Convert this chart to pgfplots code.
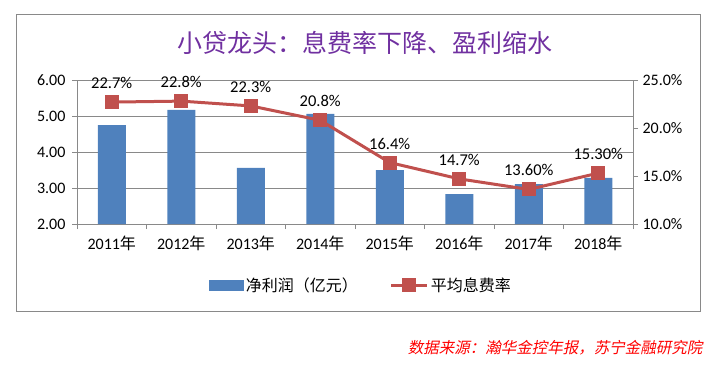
\documentclass[border=0pt]{standalone}
\usepackage{fontspec}
\usepackage{pgfplots}
\pgfplotsset{compat=1.18}
\setmainfont{Carlito}
\newfontfamily\cjk{Noto Sans CJK SC}
\newfontfamily\cjkit[FakeSlant=0.2]{Noto Sans CJK SC}
\definecolor{barblue}{HTML}{4F81BD}
\definecolor{linered}{HTML}{C0504D}
\definecolor{titlepurple}{HTML}{7030A0}
\definecolor{gridgray}{HTML}{898989}
\pgfplotsset{myline legend/.style={legend image code/.code={\draw[mark repeat=2,mark phase=2,##1] plot coordinates {(0pt,0pt)(18pt,0pt)(36pt,0pt)};}}}
\begin{document}
\begin{tikzpicture}[x=1pt,y=1pt]
\useasboundingbox (0,0) rectangle (717,365);
\draw[gridgray, line width=0.8pt] (16,54) rectangle (700,351);
\node[text=titlepurple, font=\cjk\fontsize{25}{28}\selectfont] at (365,322) {小贷龙头：息费率下降、盈利缩水};
\node[text=red, anchor=east, font=\cjkit\fontsize{15.5}{18}\selectfont] at (706,17) {数据来源：瀚华金控年报，苏宁金融研究院};
\begin{axis}[
  at={(77pt,141pt)}, anchor=south west, scale only axis,
  width=556pt, height=144pt,
  xmin=-0.5, xmax=7.5, ymin=2, ymax=6,
  axis x line*=bottom, axis y line*=left,
  axis line style={gridgray, line width=0.8pt},
  xtick={0,...,7},
  xticklabels={2011{\cjk 年},2012{\cjk 年},2013{\cjk 年},2014{\cjk 年},2015{\cjk 年},2016{\cjk 年},2017{\cjk 年},2018{\cjk 年}},
  major x tick style={draw=none},
  minor xtick={-0.5,0.5,...,7.5},
  minor x tick style={gridgray, line width=0.8pt},
  minor tick length=5pt,
  ytick={2,3,4,5,6},
  yticklabels={2.00,3.00,4.00,5.00,6.00},
  tick align=outside, major tick length=5pt,
  y tick style={gridgray, line width=0.8pt},
  ymajorgrids, grid style={gridgray, line width=0.8pt},
  ticklabel style={font=\fontsize{16}{19}\selectfont},
  yticklabel style={xshift=-3pt},
  xticklabel style={yshift=-3pt},
  clip=false,
]
\addplot[ybar, bar width=28pt, fill=barblue, draw=none, bar shift=0pt] coordinates {
(0,4.75) (1,5.17) (2,3.56) (3,5.06) (4,3.50) (5,2.83) (6,3.11) (7,3.28)};
\end{axis}
\begin{axis}[
  at={(77pt,141pt)}, anchor=south west, scale only axis,
  width=556pt, height=144pt,
  xmin=-0.5, xmax=7.5, ymin=10, ymax=25,
  axis x line=none, axis y line*=right,
  axis line style={gridgray, line width=0.8pt},
  ytick={10,15,20,25},
  yticklabels={10.0\%,15.0\%,20.0\%,25.0\%},
  tick align=outside, major tick length=5pt,
  y tick style={gridgray, line width=0.8pt},
  ticklabel style={font=\fontsize{16}{19}\selectfont},
  yticklabel style={xshift=1pt},
  clip=false,
  legend columns=2,
  legend style={at={(0.511,-0.424)}, anchor=center, draw=none, fill=none,
    font=\cjk\fontsize{16}{19}\selectfont,
    /tikz/every even column/.append style={column sep=30pt},
    /tikz/every odd column/.append style={column sep=0pt}},
]
\addlegendimage{legend image code/.code={\fill[barblue] (0pt,-5pt) rectangle (34pt,5pt);}}
\addlegendentry{净利润（亿元）}
\addplot[linered, line width=3pt, mark=square*, mark size=6.5pt,
  mark options={fill=linered, draw=linered, line width=0pt},
  point meta=explicit symbolic,
  nodes near coords={\pgfplotspointmeta\%},
  nodes near coords style={anchor=south, yshift=10pt, text=black, font=\fontsize{16.5}{19}\selectfont},
  myline legend
] table[meta=lab] {
x y lab
0 22.7 22.7
1 22.8 22.8
2 22.3 22.3
3 20.8 20.8
4 16.4 16.4
5 14.7 14.7
6 13.6 13.60
7 15.3 15.30
};
\addlegendentry{平均息费率}
\end{axis}
\end{tikzpicture}
\end{document}
